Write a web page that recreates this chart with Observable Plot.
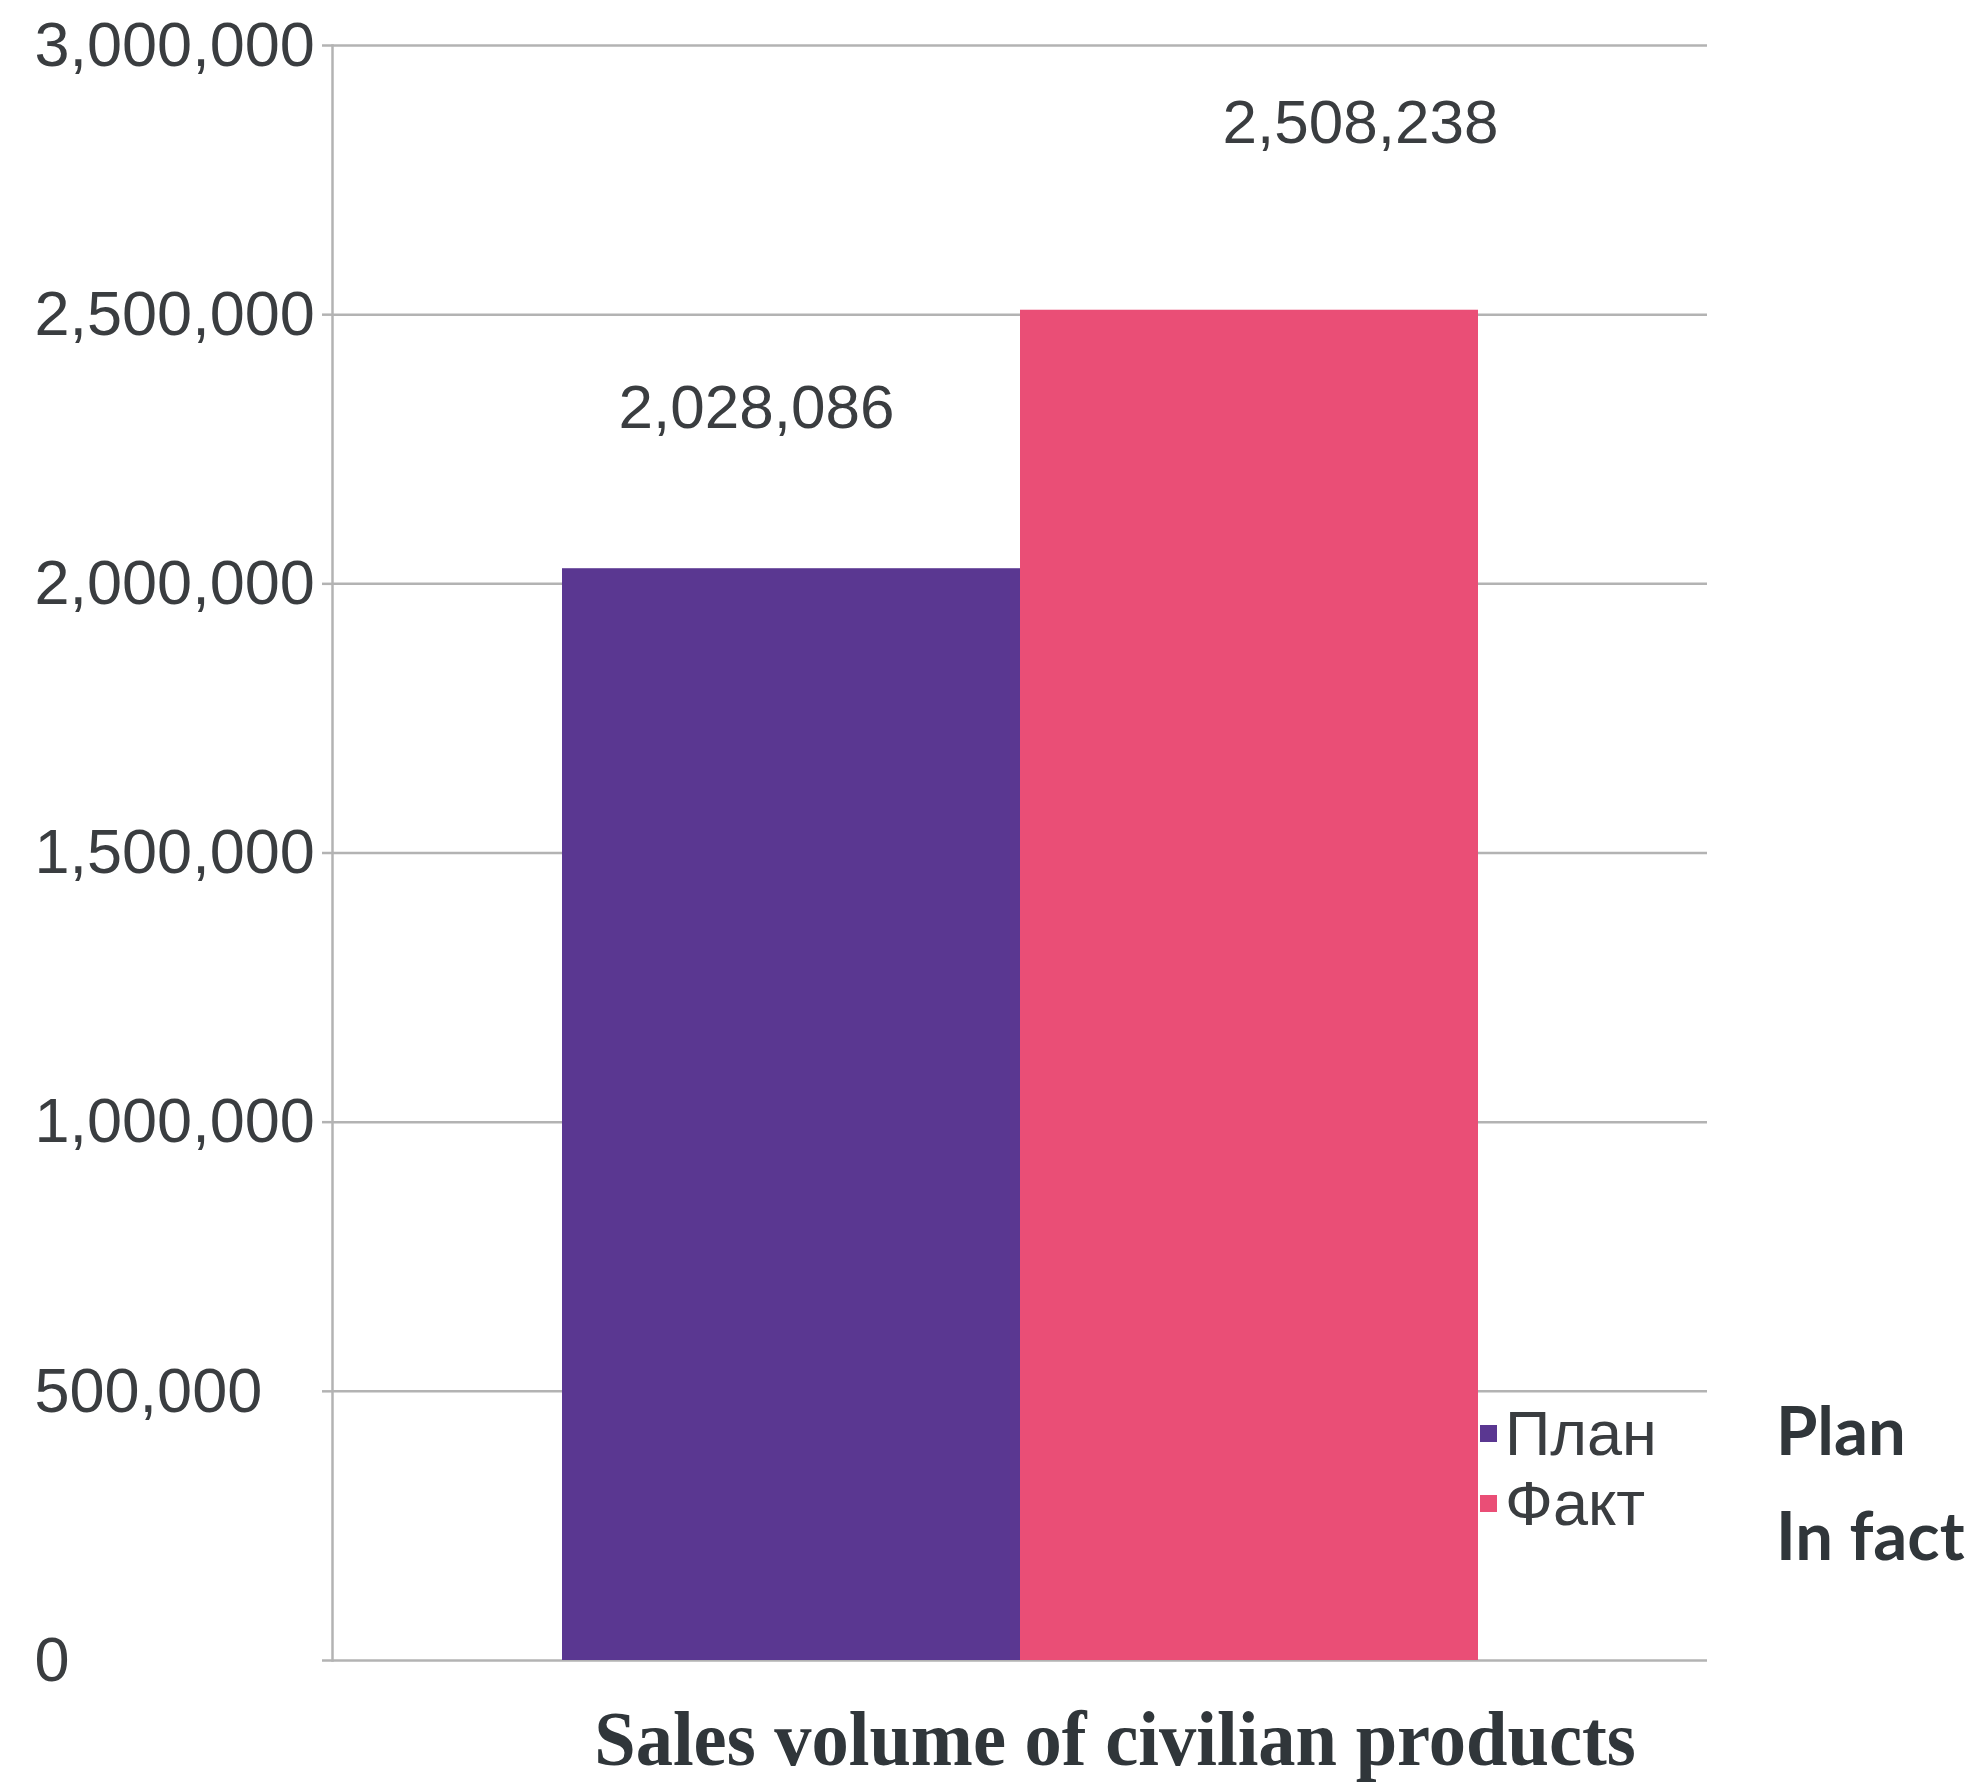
<!DOCTYPE html>
<html>
<head>
<meta charset="utf-8">
<script src="https://cdn.jsdelivr.net/npm/d3@7"></script>
<script src="https://cdn.jsdelivr.net/npm/@observablehq/plot@0.6"></script>
<style>
  html, body { margin: 0; padding: 0; background: #fff; }
  #wrap { position: relative; width: 1983px; height: 1784px; overflow: hidden; background: #fff; }
  #chart { position: absolute; left: 0; top: 0; }
  .ru-legend { position: absolute; left: 1480px; top: 1398px; font-family: "Liberation Sans", Arial, sans-serif; font-size: 63px; color: #3a3d40; line-height: 70px; }
  .ru-legend .row { display: flex; align-items: center; }
  .ru-legend .sw { width: 17px; height: 17px; margin-right: 8px; }
  .en-legend { position: absolute; left: 1776px; top: 1377px; font-family: Lato, "Open Sans", sans-serif; font-weight: 700; font-size: 67px; color: #30363a; line-height: 105px; }
  .title { position: absolute; left: 0; width: 2230px; top: 1694px; text-align: center; font-family: "Liberation Serif", "Times New Roman", serif; font-weight: 700; font-size: 78px; line-height: 90px; color: #30363a; transform: scaleX(0.955); transform-origin: 1115px 0; }
</style>
</head>
<body>
<div id="wrap">
  <div id="chart"></div>
  <div class="ru-legend" id="ruLegend"></div>
  <div class="en-legend" id="enLegend"></div>
  <div class="title" id="title"></div>
</div>
<script>
const series = ["План", "Факт"];
const seriesEnglish = ["Plan", "In fact"];
const values = [2028086, 2508238];
const colors = ["#5a3791", "#ea4e76"];
const yTicks = [0, 500000, 1000000, 1500000, 2000000, 2500000, 3000000];
const titleText = "Sales volume of civilian products";

const data = series.map((s, i) => ({series: s, value: values[i]}));
const fmt = d3.format(",");

const chart = Plot.plot({
  width: 1983,
  height: 1700,
  marginLeft: 332,
  marginRight: 276,
  marginTop: 45,
  marginBottom: 40,
  style: {fontFamily: "'Liberation Sans', Arial, sans-serif", color: "#3a3d40", background: "transparent"},
  x: {domain: series, paddingInner: 0, paddingOuter: 0.5, axis: null},
  y: {domain: [0, 3000000], label: null, axis: null},
  color: {domain: series, range: colors},
  marks: [
    Plot.gridY(yTicks, {stroke: "#b3b3b3", strokeOpacity: 1, strokeWidth: 2.5}),
    Plot.frame({anchor: "left", stroke: "#b3b3b3", strokeWidth: 2.5}),
    Plot.axisY({ticks: yTicks, tickFormat: () => "", tickSize: 10, label: null,
                stroke: "#b3b3b3", strokeWidth: 2.5}),
    Plot.text(yTicks, {y: d => d, text: d => fmt(d), frameAnchor: "left", textAnchor: "start",
                dx: -298, fontSize: 63, fill: "#3a3d40"}),
    Plot.barY(data, {x: "series", y: "value", fill: "series"}),
    Plot.text(data.filter(d => d.series === series[0]), {x: "series", y: "value", text: d => fmt(d.value),
      lineAnchor: "bottom", dx: -35, dy: -141, fontSize: 62, fill: "#3a3d40"}),
    Plot.text(data.filter(d => d.series === series[1]), {x: "series", y: "value", text: d => fmt(d.value),
      lineAnchor: "bottom", dx: 111, dy: -167, fontSize: 62, fill: "#3a3d40"})
  ]
});
document.getElementById("chart").appendChild(chart);

const ru = document.getElementById("ruLegend");
series.forEach((s, i) => {
  const row = document.createElement("div");
  row.className = "row";
  const sw = document.createElement("span");
  sw.className = "sw";
  sw.style.background = colors[i];
  const t = document.createElement("span");
  t.textContent = s;
  row.appendChild(sw); row.appendChild(t);
  ru.appendChild(row);
});
const en = document.getElementById("enLegend");
seriesEnglish.forEach(s => {
  const d = document.createElement("div");
  d.textContent = s;
  en.appendChild(d);
});
document.getElementById("title").textContent = titleText;
</script>
</body>
</html>
